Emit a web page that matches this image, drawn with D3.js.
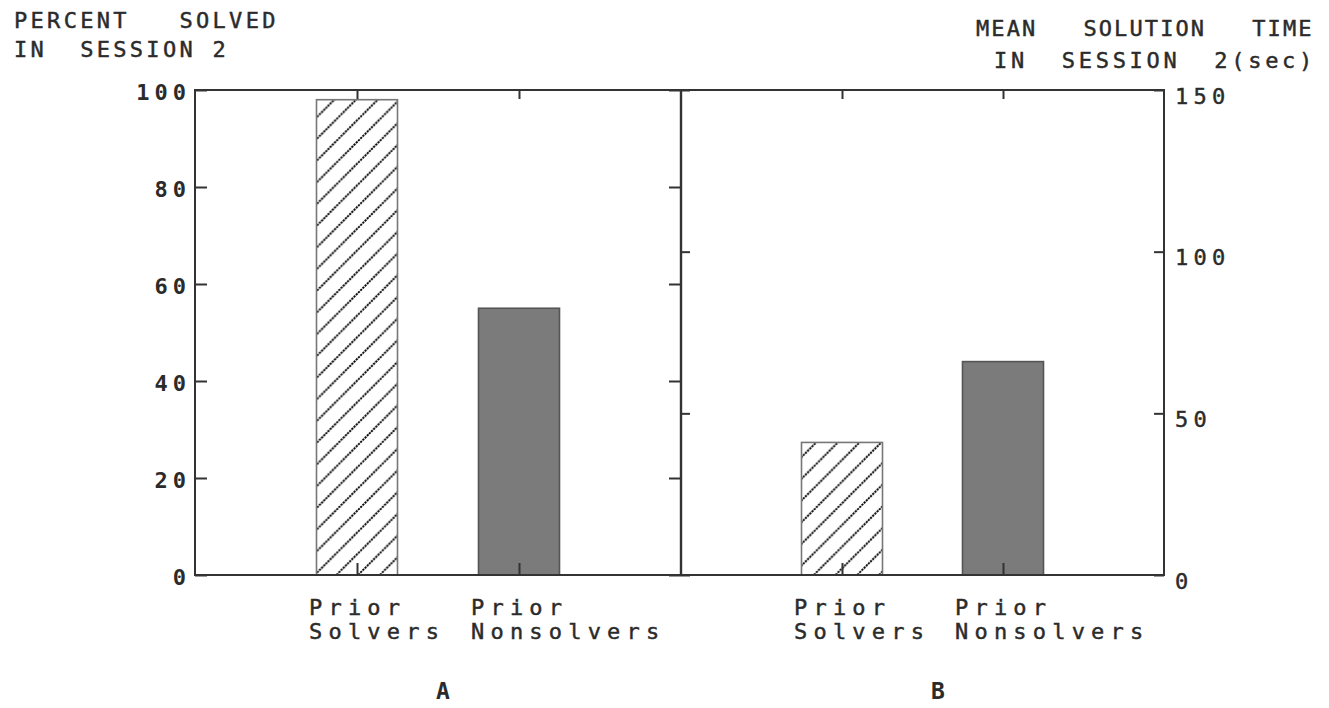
<!DOCTYPE html>
<html>
<head>
<meta charset="utf-8">
<script src="https://cdn.jsdelivr.net/npm/d3@7"></script>
<style>
  html, body { margin: 0; padding: 0; background: #fff; }
  svg { display: block; }
  text { font-family: "DejaVu Sans Mono", "Liberation Mono", monospace; fill: #2b2b2b; white-space: pre; }
  .heavy { stroke: #2b2b2b; stroke-width: 0.45px; }
</style>
</head>
<body>
<svg id="chart" width="1329" height="708"></svg>
<script>
// Data
const categories = ["Prior Solvers", "Prior Nonsolvers"];
const percentSolved = [98, 55];        // panel A, percent
const meanTime = [41, 66];             // panel B, seconds
const percentTicks = [0, 20, 40, 60, 80, 100];
const timeTicks = [0, 50, 100, 150];
const panelNames = ["A", "B"];

const svg = d3.select("#chart");
const ink = "#333";

// Frame geometry
const plotTop = 90, plotBottom = 575;
const aLeft = 195, mid = 681, bRight = 1164;

const yA = d3.scaleLinear().domain([0, 100]).range([plotBottom, plotTop]);
const yB = d3.scaleLinear().domain([0, 150]).range([plotBottom, plotTop]);
const xA = d3.scalePoint().domain(categories).range([aLeft, mid]).padding(1);
const xB = d3.scalePoint().domain(categories).range([mid, bRight]).padding(1);
const barW = xA.step() / 2;

// Hatch pattern for the "Prior Solvers" bars
const defs = svg.append("defs");
const hs = 21.7;
const pat = defs.append("pattern")
  .attr("id", "hatch")
  .attr("patternUnits", "userSpaceOnUse")
  .attr("width", hs).attr("height", hs);
pat.append("rect").attr("width", hs).attr("height", hs).attr("fill", "#fff");
pat.append("path")
  .attr("d", `M0,${hs} L${hs},0 M${-hs/2},${hs/2} L${hs/2},${-hs/2} M${hs/2},${hs*1.5} L${hs*1.5},${hs/2}`)
  .attr("stroke", "#000").attr("stroke-width", 1.9)
  .attr("stroke-dasharray", "2.2 0.9");

function drawBars(x, y, values) {
  svg.append("g").selectAll("rect")
    .data(categories.map((c, i) => ({ c, v: values[i], i })))
    .join("rect")
    .attr("x", d => x(d.c) - barW / 2)
    .attr("y", d => y(d.v))
    .attr("width", barW)
    .attr("height", d => y(0) - y(d.v))
    .attr("fill", d => d.i === 0 ? "url(#hatch)" : "#7b7b7b")
    .attr("stroke", d => d.i === 0 ? "#777" : "#555")
    .attr("stroke-width", 1.6);
}
drawBars(xA, yA, percentSolved);
drawBars(xB, yB, meanTime);

function styleAxis(g) {
  g.select(".domain").remove();
  g.selectAll(".tick line").attr("stroke", ink).attr("stroke-width", 2);
}

// Left axis (percent) with labels outside, ticks pointing in
svg.append("g").attr("transform", `translate(${aLeft},0)`)
  .call(d3.axisLeft(yA).tickValues(percentTicks).tickSizeInner(-12).tickSizeOuter(0).tickPadding(4))
  .call(styleAxis)
  .call(g => g.selectAll(".tick text")
    .attr("font-size", 22).attr("font-weight", "bold")
    .attr("letter-spacing", 5).attr("dy", "0.42em")
    .attr("font-family", "DejaVu Sans Mono").attr("fill", "#222"));

// Mirror ticks of the percent scale on the divider
svg.append("g").attr("transform", `translate(${mid},0)`)
  .call(d3.axisRight(yA).tickValues(percentTicks).tickSizeInner(-12).tickSizeOuter(0).tickFormat(""))
  .call(styleAxis);

// Mirror ticks of the time scale on the divider
svg.append("g").attr("transform", `translate(${mid},0)`)
  .call(d3.axisLeft(yB).tickValues(timeTicks).tickSizeInner(-9).tickSizeOuter(0).tickFormat(""))
  .call(styleAxis);

// Right axis (seconds)
svg.append("g").attr("transform", `translate(${bRight},0)`)
  .call(d3.axisRight(yB).tickValues(timeTicks).tickSizeInner(-10).tickSizeOuter(0).tickPadding(11))
  .call(styleAxis)
  .call(g => g.selectAll(".tick text")
    .attr("class", "heavy")
    .attr("font-size", 22).attr("letter-spacing", 5.2).attr("dy", "0.6em")
    .attr("font-family", "DejaVu Sans Mono").attr("fill", "#2b2b2b"));

// Category ticks on top and bottom edges
[xA, xB].forEach(x => {
  svg.append("g").attr("transform", `translate(0,${plotBottom})`)
    .call(d3.axisBottom(x).tickSizeInner(-12).tickSizeOuter(0).tickFormat(""))
    .call(styleAxis);
  svg.append("g").attr("transform", `translate(0,${plotTop})`)
    .call(d3.axisTop(x).tickSizeInner(-9).tickSizeOuter(0).tickFormat(""))
    .call(styleAxis);
});

// Panel frames
svg.append("rect").attr("x", aLeft).attr("y", plotTop).attr("width", bRight - aLeft).attr("height", plotBottom - plotTop)
  .attr("fill", "none").attr("stroke", ink).attr("stroke-width", 2);
svg.append("line").attr("x1", mid).attr("x2", mid).attr("y1", plotTop).attr("y2", plotBottom)
  .attr("stroke", ink).attr("stroke-width", 2.4);

// Category labels, two lines, left aligned near each bar
function drawLabels(x) {
  categories.forEach(c => {
    const parts = c.split(" ");
    const t = svg.append("text").attr("class", "heavy")
      .attr("x", x(c) - 48).attr("y", 615)
      .attr("font-size", 22).attr("letter-spacing", 6.2);
    t.append("tspan").attr("x", x(c) - 48).attr("y", 615).text(parts[0]);
    t.append("tspan").attr("x", x(c) - 48).attr("y", 639).text(parts[1]);
  });
}
drawLabels(xA);
drawLabels(xB);

// Panel letters
svg.append("text").attr("x", 443).attr("y", 699).attr("text-anchor", "middle")
  .attr("font-size", 23).attr("font-weight", "bold").attr("fill", "#222").text(panelNames[0]);
svg.append("text").attr("x", 938).attr("y", 699).attr("text-anchor", "middle")
  .attr("font-size", 23).attr("font-weight", "bold").attr("fill", "#222").text(panelNames[1]);

// Axis titles
svg.append("text").attr("class", "heavy").attr("x", 14).attr("y", 28).attr("font-size", 22).attr("letter-spacing", 3.3)
  .text("PERCENT   SOLVED");
svg.append("text").attr("class", "heavy").attr("x", 14).attr("y", 57).attr("font-size", 22).attr("letter-spacing", 3.3)
  .text("IN  SESSION 2");
svg.append("text").attr("class", "heavy").attr("x", 976).attr("y", 36)
  .attr("font-size", 22).attr("letter-spacing", 2.1)
  .text("MEAN   SOLUTION   TIME");
svg.append("text").attr("class", "heavy").attr("x", 1316).attr("y", 68).attr("text-anchor", "end")
  .attr("font-size", 22).attr("letter-spacing", 3.7)
  .text("IN  SESSION  2(sec)");
</script>
</body>
</html>
